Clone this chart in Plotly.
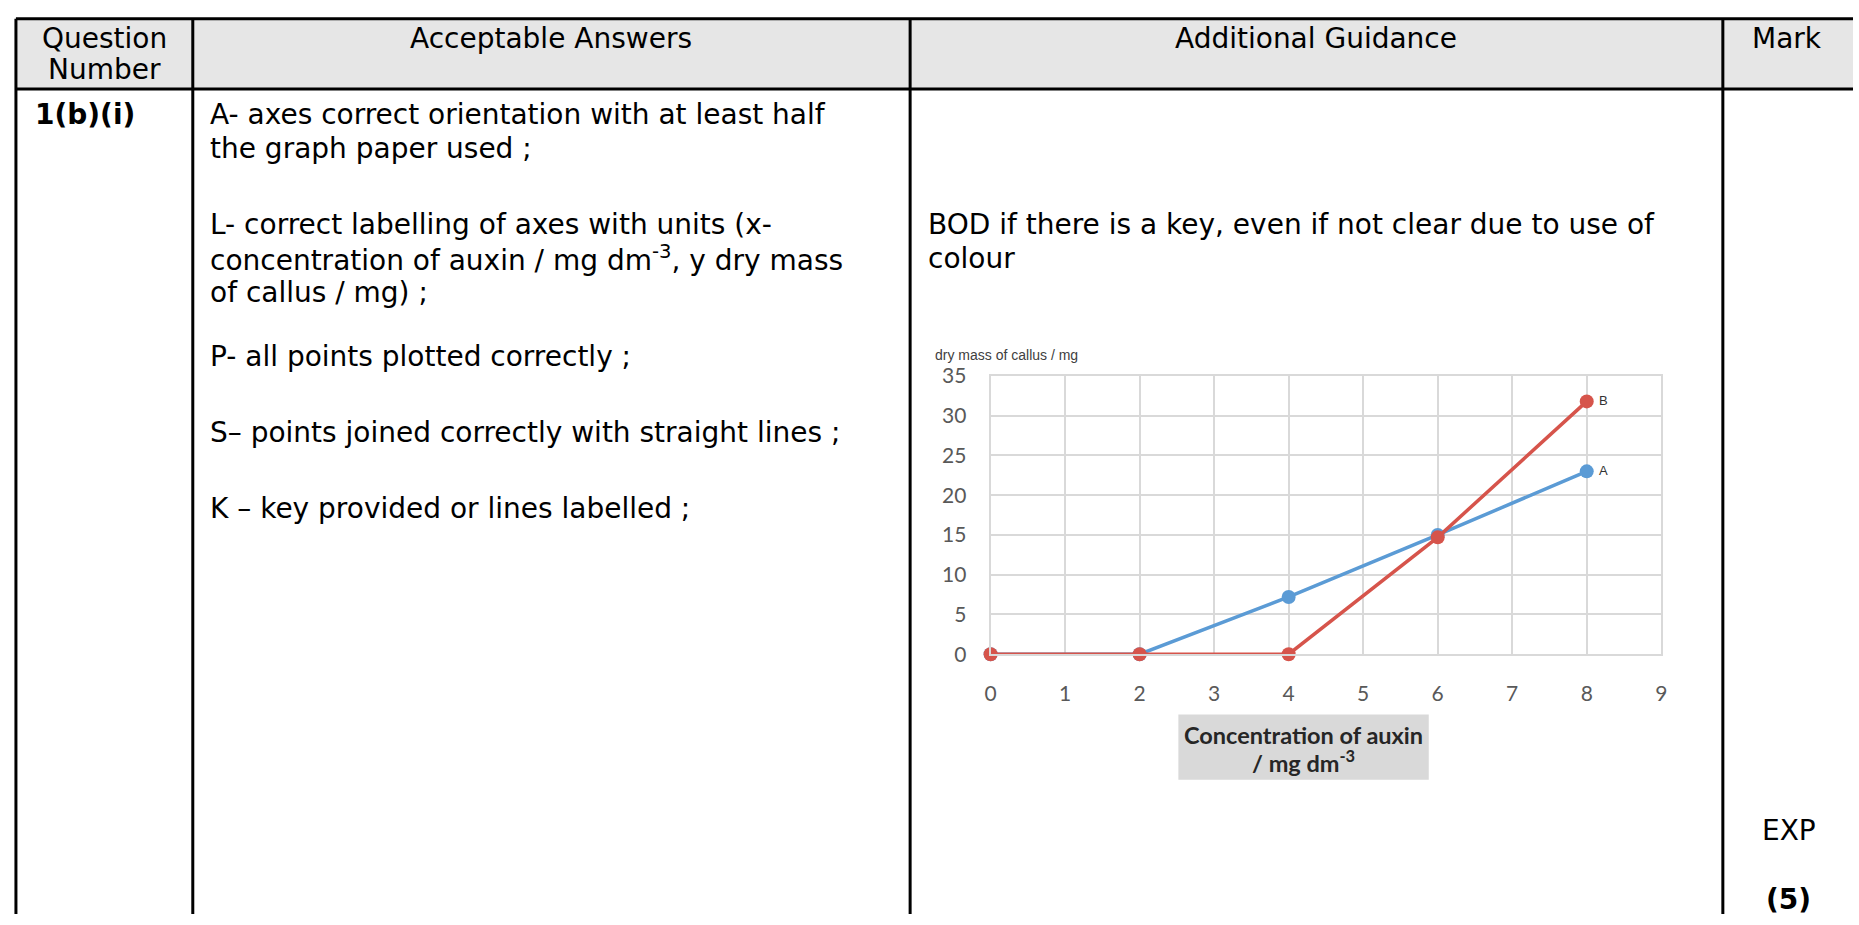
"""Mark scheme table row with the auxin / callus line chart."""

import plotly.graph_objects as go

W, H = 1859, 925

# chart data
conc = [0, 2, 4, 6, 8]
mass_a = [0, 0, 7.2, 15, 23]
mass_b = [0, 0, 0, 14.7, 31.8]
series_names = ["A", "B"]
x_ticks = list(range(10))
y_ticks = [0, 5, 10, 15, 20, 25, 30, 35]

# table text
headers = ["Question", "Number", "Acceptable Answers", "Additional Guidance", "Mark"]
question_no = "1(b)(i)"
answers = [
    "A- axes correct orientation with at least half",
    "the graph paper used ;",
    "L- correct labelling of axes with units (x-",
    "concentration of auxin / mg dm<sup>-3</sup>, y dry mass",
    "of callus / mg) ;",
    "P- all points plotted correctly ;",
    "S\u2013 points joined correctly with straight lines ;",
    "K \u2013 key provided or lines labelled ;",
]
guidance = ["BOD if there is a key, even if not clear due to use of", "colour"]
mark_code = "EXP"
mark_total = "(5)"

TXT = "DejaVu Sans"
BLUE = "#5B9BD5"
RED = "#D6544B"
GRID = "#D9D9D9"


def px(x):
    return x / W


def py(y):
    return 1 - y / H


fig = go.Figure()
for name, vals, col in [(series_names[0], mass_a, BLUE), (series_names[1], mass_b, RED)]:
    fig.add_trace(go.Scatter(
        x=conc, y=vals, mode="lines+markers", name=name,
        line=dict(color=col, width=3.5), marker=dict(color=col, size=14),
        cliponaxis=False,
    ))
for name, vals in [(series_names[0], mass_a), (series_names[1], mass_b)]:
    # series label next to the last point (invisible marker keeps the text clear of the dot)
    fig.add_trace(go.Scatter(
        x=conc[-1:], y=vals[-1:], mode="markers+text", text=[name], textposition="middle right",
        textfont=dict(family="Liberation Sans", size=13, color="#333333"),
        marker=dict(size=18, color="rgba(0,0,0,0)"),
        cliponaxis=False, hoverinfo="skip",
    ))

shapes = []
# header background
shapes.append(dict(type="rect", xref="paper", yref="paper", x0=px(10), x1=px(1859),
                   y0=py(5), y1=py(77), fillcolor="#E6E6E6", line=dict(width=0), layer="below"))
# table rules
line = dict(color="black", width=3)
for yy in (5, 77):
    shapes.append(dict(type="line", xref="paper", yref="paper", x0=px(10), x1=px(1859),
                       y0=py(yy), y1=py(yy), line=line))
for xx in (10, 188, 910, 1728):
    shapes.append(dict(type="line", xref="paper", yref="paper", x0=px(xx), x1=px(xx),
                       y0=py(5), y1=py(925), line=line))
# x-axis title box
shapes.append(dict(type="rect", xref="paper", yref="paper", x0=px(1180), x1=px(1432),
                   y0=py(720), y1=py(787), fillcolor="#D9D9D9", line=dict(width=0), layer="below"))

ann = []


def text(t, x, y, anchor="left", size=28, family=TXT, color="black"):
    ann.append(dict(text=t, x=px(x), y=py(y), xref="paper", yref="paper", showarrow=False,
                    xanchor=anchor, yanchor="middle", font=dict(family=family, size=size, color=color)))


text(headers[0], 99, 25, "center")
text(headers[1], 99, 57, "center")
text(headers[2], 549, 25, "center")
text(headers[3], 1319, 25, "center")
text(headers[4], 1793, 25, "center")
text("<b>" + question_no + "</b>", 27, 103)
for t, yy in zip(answers, [103, 138, 216, 251, 286, 352, 430, 508]):
    text(t, 203, yy)
for t, yy in zip(guidance, [216, 251]):
    text(t, 926, yy)
text(mark_code, 1795, 839, "center")
text("<b>" + mark_total + "</b>", 1794, 910, "center")

# chart labels
text("dry mass of callus / mg", 933, 350, size=14, family="Liberation Sans", color="#404040")
text("<b>Concentration of auxin</b>", 1306, 741, "center", size=23.5, family="Lato", color="#262626")
text("<b>/ mg dm<sup>-3</sup></b>", 1306, 768, "center", size=23.5, family="Lato", color="#262626")

fig.update_layout(
    width=W, height=H, margin=dict(l=0, r=0, t=0, b=0),
    paper_bgcolor="white", plot_bgcolor="white", showlegend=False,
    shapes=shapes, annotations=ann,
    xaxis=dict(domain=[px(991), px(1666)], range=[0, 9], tickvals=x_ticks,
               showgrid=True, gridcolor=GRID, gridwidth=2, zeroline=False,
               showline=True, linecolor=GRID, linewidth=2, mirror=True,
               tickfont=dict(family="Lato", size=21, color="#595959"), ticklabelstandoff=20),
    yaxis=dict(domain=[py(658), py(372)], range=[0, 35], tickvals=y_ticks,
               showgrid=True, gridcolor=GRID, gridwidth=2, zeroline=False,
               showline=True, linecolor=GRID, linewidth=2, mirror=True,
               tickfont=dict(family="Lato", size=21, color="#595959"), ticklabelstandoff=18),
)

fig.write_html(
    "out.html", config={"displayModeBar": False},
    post_script=(
        "document.body.style.margin='0px';"
        "var gd=document.getElementById('{plot_id}');"
        "if(gd){gd.style.position='absolute';gd.style.left='0px';gd.style.top='0px';}"
    ),
)
